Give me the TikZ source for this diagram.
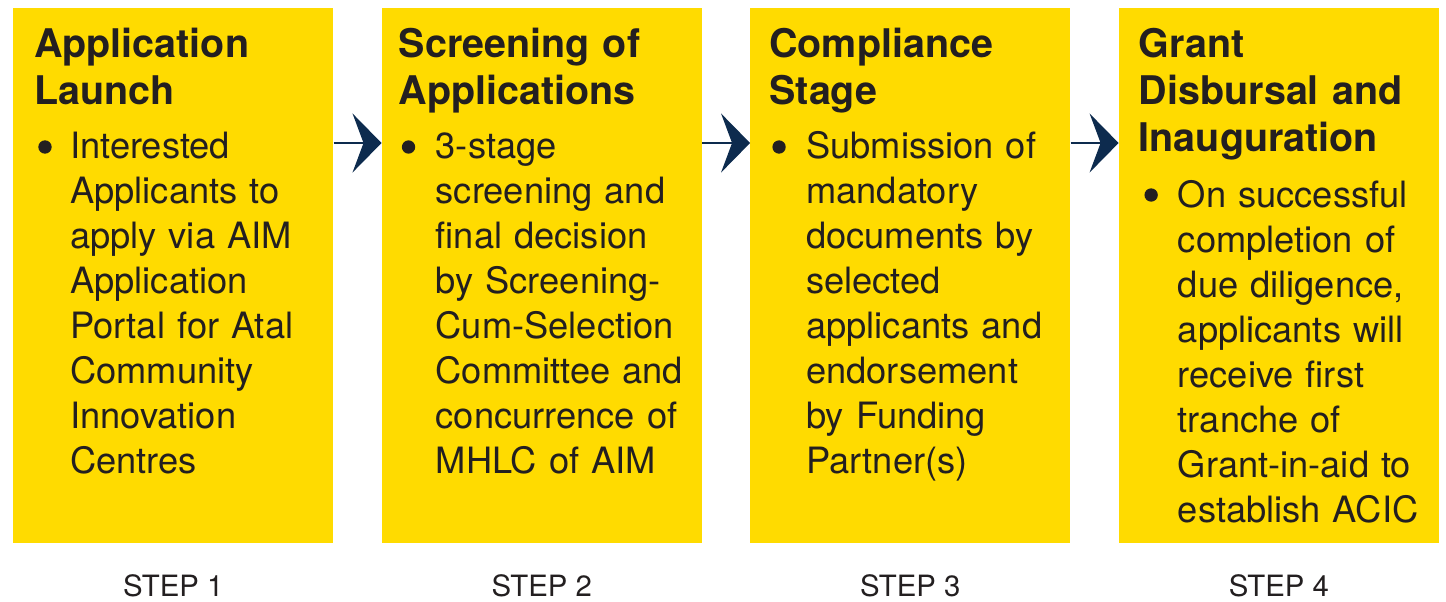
\documentclass[tikz,border=0pt]{standalone}
\usepackage{fontspec}
\setmainfont{TeX Gyre Heros}
\usetikzlibrary{arrows.meta,positioning}
\definecolor{stepyellow}{HTML}{FFDB00}
\definecolor{arrownavy}{HTML}{0D2B4E}
\definecolor{inkdark}{HTML}{231F20}

\begin{document}
\begin{tikzpicture}[node distance=36pt,
    stepbox/.style={rectangle,fill=stepyellow,minimum width=240pt,minimum height=401.25pt,inner sep=0pt},
    steptitle/.style={anchor=base west,inner sep=0pt,text width=215pt,text=inkdark,font=\fontsize{29.6}{35.25}\selectfont\bfseries},
    steptext/.style={anchor=base west,inner sep=0pt,text width=200pt,text=inkdark,font=\fontsize{27.2}{33.75}\selectfont},
    stepbullet/.style={circle,fill=inkdark,inner sep=0pt,minimum size=10pt},
    steplabel/.style={anchor=base,inner sep=0pt,text=inkdark,font=\fontsize{22}{26}\selectfont},
    flowarrow/.style={draw=arrownavy,line width=1.1pt,-{Stealth[length=21.75pt,width=44.25pt,inset=8.25pt,fill=arrownavy]}}]
    \useasboundingbox (0,0) rectangle (1084.5pt,-450.75pt);
    % the four boxes
    \node[stepbox,anchor=north west](box1) at (9.75pt,-6pt){};
    \node[stepbox](box2)[right=of box1]{};
    \node[stepbox](box3)[right=of box2]{};
    \node[stepbox](box4)[right=of box3]{};
    % titles
    \node[steptitle](title1) at ([xshift=15.75pt,yshift=-36.75pt]box1.north west){Application\\Launch};
    \node[steptitle](title2) at ([xshift=12.75pt,yshift=-36.75pt]box2.north west){Screening of\\Applications};
    \node[steptitle](title3) at ([xshift=14.25pt,yshift=-36.75pt]box3.north west){Compliance\\Stage};
    \node[steptitle](title4) at ([xshift=15pt,yshift=-36.75pt]box4.north west){Grant\\Disbursal and\\Inauguration};
    % bullets
    \node[stepbullet](dot1) at ([xshift=24pt,yshift=-104.25pt]box1.north west){};
    \node[stepbullet](dot2) at ([xshift=20.25pt,yshift=-104.25pt]box2.north west){};
    \node[stepbullet](dot3) at ([xshift=21.75pt,yshift=-104.25pt]box3.north west){};
    \node[stepbullet](dot4) at ([xshift=24.4pt,yshift=-140.25pt]box4.north west){};
    % bullet texts
    \node[steptext](text1) at ([xshift=42.75pt,yshift=-112.9pt]box1.north west){Interested\\Applicants to\\apply via AIM\\Application\\Portal for Atal\\Community\\Innovation\\Centres};
    \node[steptext](text2) at ([xshift=40.5pt,yshift=-112.9pt]box2.north west){3-stage\\screening and\\final decision\\by Screening-\\Cum-Selection\\Committee and\\concurrence of\\MHLC of AIM};
    \node[steptext](text3) at ([xshift=42pt,yshift=-112.9pt]box3.north west){Submission of\\mandatory\\documents by\\selected\\applicants and\\endorsement\\by Funding\\Partner(s)};
    \node[steptext](text4) at ([xshift=44.25pt,yshift=-149.25pt]box4.north west){On successful\\completion of\\due diligence,\\applicants will\\receive first\\tranche of\\Grant-in-aid to\\establish ACIC};
    % step labels
    \node[steplabel](step1) at (box1.south |- 0,-447.5pt){STEP 1};
    \node[steplabel](step2) at (box2.south |- 0,-447.5pt){STEP 2};
    \node[steplabel](step3) at (box3.south |- 0,-447.5pt){STEP 3};
    \node[steplabel](step4) at (box4.south |- 0,-447.5pt){STEP 4};
    % arrows
    \path[flowarrow]([yshift=-101.25pt]box1.north east)--([yshift=-101.25pt]box2.north west);
    \path[flowarrow]([yshift=-101.25pt]box2.north east)--([yshift=-101.25pt]box3.north west);
    \path[flowarrow]([yshift=-101.25pt]box3.north east)--([yshift=-101.25pt]box4.north west);
\end{tikzpicture}
\end{document}
